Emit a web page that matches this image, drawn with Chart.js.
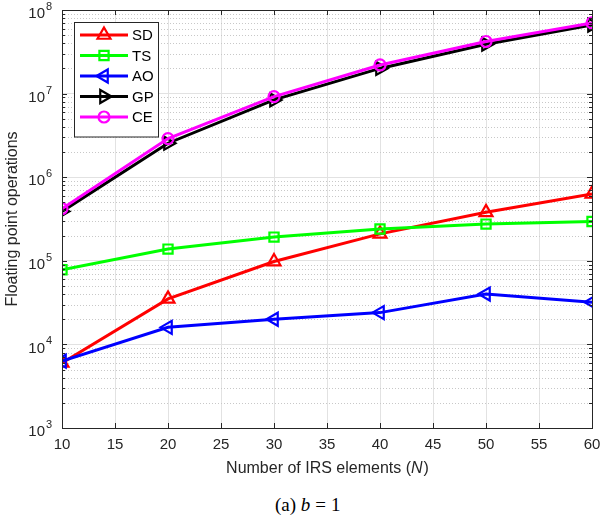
<!DOCTYPE html>
<html>
<head>
<meta charset="utf-8">
<script src="https://cdn.jsdelivr.net/npm/chart.js@4.4.1/dist/chart.umd.min.js"></script>
<style>
  body { margin: 0; background: #fff; }
  #wrap { position: relative; width: 603px; height: 524px; }
  #chartBox { position: absolute; left: 0; top: 0; width: 603px; height: 480px; }
  #caption {
    position: absolute; left: 275px; top: 494px; white-space: nowrap;
    font-family: "Liberation Serif", "DejaVu Serif", serif; font-size: 19px; line-height: 22px; color: #000;
  }
  #caption .eq { margin: 0 5px; }
</style>
</head>
<body>
<div id="wrap">
  <div id="chartBox"><canvas id="myChart" width="603" height="480"></canvas></div>
  <div id="caption">(a) <i>b</i><span class="eq">=</span>1</div>
</div>
<script>
"use strict";

// number of IRS elements
let nValues = [10, 20, 30, 40, 50, 60];

// floating point operations
let sdFlops = [6.0e3, 3.5e4, 9.8e4, 2.1e5, 3.8e5, 6.3e5];
let tsFlops = [7.8e4, 1.38e5, 1.92e5, 2.4e5, 2.75e5, 2.95e5];
let aoFlops = [6.3e3, 1.6e4, 2.0e4, 2.4e4, 4.0e4, 3.2e4];
let gpFlops = [3.9e5, 2.55e6, 8.4e6, 2.0e7, 3.9e7, 6.6e7];
let ceFlops = [4.2e5, 2.9e6, 9.2e6, 2.2e7, 4.2e7, 7.0e7];

let xTicks = [10, 15, 20, 25, 30, 35, 40, 45, 50, 55, 60];
let yDecades = [1e3, 1e4, 1e5, 1e6, 1e7, 1e8];

function pointsOf(values) {
  return nValues.map((n, i) => ({ x: n, y: values[i] }));
}

function makeSeries(label, values, color, style, rotation, radius, order) {
  return {
    label: label,
    data: pointsOf(values),
    borderColor: color,
    backgroundColor: "rgba(0,0,0,0)",
    borderWidth: 3,
    pointStyle: style,
    pointRotation: rotation,
    pointRadius: radius,
    pointBorderWidth: 2.2,
    pointBorderColor: color,
    pointBackgroundColor: "rgba(0,0,0,0)",
    tension: 0,
    order: order,
  };
}

const FONT = "'Liberation Sans', Arial, Helvetica, sans-serif";
const TEXT = "#262626";

// dotted minor grid for the log axis
const minorGrid = {
  id: "minorGrid",
  beforeDatasetsDraw(chart) {
    const ctx = chart.ctx;
    const area = chart.chartArea;
    const y = chart.scales.y;
    ctx.save();
    ctx.strokeStyle = "#c8c8c8";
    ctx.lineWidth = 1;
    ctx.setLineDash([1, 2]);
    for (let d = 0; d < yDecades.length - 1; d++) {
      for (let k = 2; k <= 9; k++) {
        let py = Math.round(y.getPixelForValue(k * yDecades[d])) + 0.5;
        ctx.beginPath();
        ctx.moveTo(area.left, py);
        ctx.lineTo(area.right, py);
        ctx.stroke();
      }
    }
    ctx.restore();
  },
};

// matlab style box, inner tick marks, tick labels and the x title
const axesBox = {
  id: "axesBox",
  afterDatasetsDraw(chart) {
    const ctx = chart.ctx;
    const a = chart.chartArea;
    const x = chart.scales.x;
    const y = chart.scales.y;
    ctx.save();
    ctx.strokeStyle = TEXT;
    ctx.lineWidth = 1;
    ctx.beginPath();
    xTicks.forEach((t) => {
      let px = Math.round(x.getPixelForValue(t)) + 0.5;
      ctx.moveTo(px, a.bottom); ctx.lineTo(px, a.bottom - 5);
      ctx.moveTo(px, a.top); ctx.lineTo(px, a.top + 5);
    });
    for (let d = 0; d < yDecades.length; d++) {
      let py = Math.round(y.getPixelForValue(yDecades[d])) + 0.5;
      ctx.moveTo(a.left, py); ctx.lineTo(a.left + 5, py);
      ctx.moveTo(a.right, py); ctx.lineTo(a.right - 5, py);
      if (d === yDecades.length - 1) break;
      for (let k = 2; k <= 9; k++) {
        let pm = Math.round(y.getPixelForValue(k * yDecades[d])) + 0.5;
        ctx.moveTo(a.left, pm); ctx.lineTo(a.left + 3, pm);
        ctx.moveTo(a.right, pm); ctx.lineTo(a.right - 3, pm);
      }
    }
    ctx.stroke();
    ctx.strokeRect(Math.round(a.left) + 0.5, Math.round(a.top) + 0.5,
      Math.round(a.right - a.left), Math.round(a.bottom - a.top));

    ctx.fillStyle = TEXT;
    ctx.textBaseline = "middle";

    // x tick labels
    ctx.font = "15px " + FONT;
    ctx.textAlign = "center";
    xTicks.forEach((t) => {
      ctx.fillText(String(t), x.getPixelForValue(t), a.bottom + 17);
    });

    // y tick labels as 10 with a raised exponent
    yDecades.forEach((v) => {
      let py = y.getPixelForValue(v);
      ctx.font = "15px " + FONT;
      ctx.textAlign = "right";
      ctx.fillText("10", a.left - 17, py + 4);
      ctx.font = "11px " + FONT;
      ctx.textAlign = "left";
      ctx.fillText(String(Math.round(Math.log10(v))), a.left - 16, py - 3);
    });

    // x title with italic N
    const partA = "Number of IRS elements (";
    const partN = "N";
    const partB = ")";
    ctx.font = "16px " + FONT;
    let wA = ctx.measureText(partA).width;
    let wB = ctx.measureText(partB).width;
    ctx.font = "italic 16px " + FONT;
    let wN = ctx.measureText(partN).width;
    let tx = (a.left + a.right) / 2 - (wA + wN + wB) / 2;
    let ty = a.bottom + 41;
    ctx.textAlign = "left";
    ctx.font = "16px " + FONT;
    ctx.fillText(partA, tx, ty);
    ctx.font = "italic 16px " + FONT;
    ctx.fillText(partN, tx + wA, ty);
    ctx.font = "16px " + FONT;
    ctx.fillText(partB, tx + wA + wN + 1, ty);
    ctx.restore();
  },
};

// legend box inside the plot, upper left
const boxLegend = {
  id: "boxLegend",
  afterDraw(chart) {
    const ctx = chart.ctx;
    const a = chart.chartArea;
    const left = a.left + 12;
    const top = a.top + 12;
    const w = 84;
    const rowH = 20.5;
    const sets = chart.data.datasets;
    const h = 12 + rowH * sets.length;
    ctx.save();
    ctx.fillStyle = "#fff";
    ctx.fillRect(left, top, w, h);
    ctx.strokeStyle = TEXT;
    ctx.lineWidth = 1;
    ctx.strokeRect(left + 0.5, top + 0.5, w, h);
    ctx.font = "15px " + FONT;
    ctx.textBaseline = "middle";
    sets.forEach((ds, i) => {
      let cy = top + 13 + i * rowH;
      ctx.strokeStyle = ds.borderColor;
      ctx.lineWidth = ds.borderWidth;
      ctx.beginPath();
      ctx.moveTo(left + 6, cy);
      ctx.lineTo(left + 54, cy);
      ctx.stroke();
      if (Chart.helpers && Chart.helpers.drawPoint) {
        ctx.lineWidth = ds.pointBorderWidth;
        ctx.strokeStyle = ds.pointBorderColor;
        ctx.fillStyle = "rgba(0,0,0,0)";
        Chart.helpers.drawPoint(ctx, {
          pointStyle: ds.pointStyle,
          rotation: ds.pointRotation,
          radius: ds.pointRadius,
          borderWidth: ds.pointBorderWidth,
        }, left + 30, cy);
      }
      ctx.fillStyle = "#000";
      ctx.fillText(ds.label, left + 58, cy + 1);
    });
    ctx.restore();
  },
};

const data = {
  datasets: [
    makeSeries("SD", sdFlops, "#ff0000", "triangle", 0, 7.5, 5),
    makeSeries("TS", tsFlops, "#00ff00", "rect", 0, 6.5, 4),
    makeSeries("AO", aoFlops, "#0000ff", "triangle", -90, 7.5, 3),
    makeSeries("GP", gpFlops, "#000000", "triangle", 90, 7.5, 2),
    makeSeries("CE", ceFlops, "#ff00ff", "circle", 0, 5.5, 1),
  ],
};

const config = {
  type: "line",
  data: data,
  plugins: [minorGrid, axesBox, boxLegend],
  options: {
    responsive: false,
    animation: false,
    layout: { padding: { left: 0, right: 11, top: 10, bottom: 0 } },
    plugins: {
      legend: { display: false },
      tooltip: { enabled: false },
    },
    scales: {
      x: {
        type: "linear",
        min: 10,
        max: 60,
        afterBuildTicks: (scale) => {
          scale.ticks = xTicks.map((v) => ({ value: v }));
        },
        afterFit: (scale) => { scale.height = 52; },
        ticks: { display: false },
        grid: { color: "#e2e2e2", lineWidth: 1, drawTicks: false },
        border: { display: false },
      },
      y: {
        type: "logarithmic",
        min: 1e3,
        max: 1e8,
        afterBuildTicks: (scale) => {
          scale.ticks = yDecades.map((v) => ({ value: v }));
        },
        afterFit: (scale) => { scale.width = 62; },
        ticks: { display: false },
        grid: { color: "#e2e2e2", lineWidth: 1, drawTicks: false },
        border: { display: false },
        title: {
          display: true,
          text: "Floating point operations",
          color: TEXT,
          font: { family: FONT, size: 16 },
          padding: { top: 3, bottom: 0 },
        },
      },
    },
  },
};

const canvasChart = document.getElementById("myChart");
new Chart(canvasChart, config);
</script>
</body>
</html>
